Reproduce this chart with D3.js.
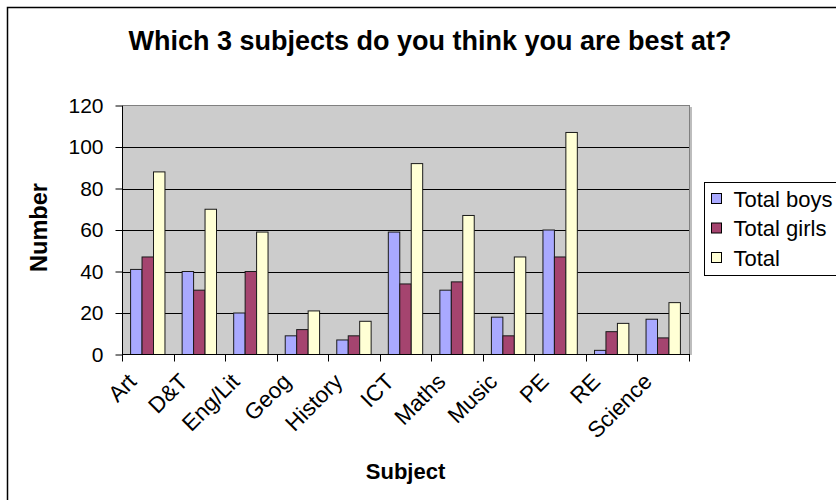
<!DOCTYPE html>
<html>
<head>
<meta charset="utf-8">
<script src="https://cdn.jsdelivr.net/npm/d3@7"></script>
<style>
  body { margin: 0; background: #fff; }
  svg text { font-family: Arial, "Liberation Sans", sans-serif; fill: #000; }
</style>
</head>
<body>
<svg id="chart" width="836" height="500"></svg>
<script>
// Survey answers: "Which 3 subjects do you think you are best at?"
const subjects   = ["Art", "D&T", "Eng/Lit", "Geog", "History", "ICT", "Maths", "Music", "PE", "RE", "Science"];
const totalBoys  = [41, 40, 20, 9, 7, 59, 31, 18, 60, 2, 17];
const totalGirls = [47, 31, 40, 12, 9, 34, 35, 9, 47, 11, 8];
const totalAll   = [88, 70, 59, 21, 16, 92, 67, 47, 107, 15, 25];
const seriesNames = ["Total boys", "Total girls", "Total"];
const yTicks = [0, 20, 40, 60, 80, 100, 120];

const seriesValues = [totalBoys, totalGirls, totalAll];
const seriesColors = ["#a9a9ff", "#a5446f", "#ffffd5"];

const svg = d3.select("#chart");
const plot = { left: 122, right: 689, top: 106, bottom: 355 };
const crisp = v => Math.round(v) + 0.5;

// Chart area frame
svg.append("rect")
  .attr("x", 7.5).attr("y", 7.5)
  .attr("width", 1000).attr("height", 1000)
  .attr("fill", "#fff").attr("stroke", "#000").attr("stroke-width", 1.5);

// Scales
const x0 = d3.scaleBand().domain(subjects).range([plot.left, plot.right]).padding(0);
const x1 = d3.scaleBand().domain(seriesNames)
  .range([x0.bandwidth() / 6, x0.bandwidth() * 5 / 6]).padding(0);
const y = d3.scaleLinear().domain([0, 120]).range([plot.bottom - 0.5, plot.top - 0.5]);

// Plot area background
svg.append("rect")
  .attr("x", plot.left + 0.5).attr("y", plot.top - 0.5)
  .attr("width", plot.right - plot.left).attr("height", plot.bottom - plot.top)
  .attr("fill", "#cccccc").attr("stroke", "#808080").attr("stroke-width", 1);
svg.append("line")
  .attr("x1", plot.right + 2).attr("x2", plot.right + 2)
  .attr("y1", plot.top + 1).attr("y2", plot.bottom)
  .attr("stroke", "#bdbdbd").attr("stroke-width", 2);

// Horizontal gridlines
svg.append("g").selectAll("line")
  .data(yTicks.filter(t => t > 0 && t < 120))
  .join("line")
  .attr("x1", plot.left).attr("x2", plot.right)
  .attr("y1", d => crisp(y(d))).attr("y2", d => crisp(y(d)))
  .attr("stroke", "#000").attr("stroke-width", 1);

// Bars
const groups = svg.append("g").selectAll("g")
  .data(subjects)
  .join("g")
  .attr("transform", d => `translate(${x0(d)},0)`);

groups.selectAll("rect")
  .data((d, i) => seriesNames.map((s, k) => ({ s, v: seriesValues[k][i], k })))
  .join("rect")
  .attr("x", d => x1(d.s))
  .attr("y", d => y(d.v))
  .attr("width", x1.bandwidth())
  .attr("height", d => y(0) - y(d.v))
  .attr("fill", d => seriesColors[d.k])
  .attr("stroke", "#1a1a1a").attr("stroke-width", 1);

// Y axis
const yAxis = svg.append("g")
  .attr("transform", `translate(${plot.left + 0.5},0)`)
  .call(d3.axisLeft(y).tickValues(yTicks).tickSize(7).tickPadding(12).tickFormat(d3.format("d")));
yAxis.select(".domain").attr("stroke", "#000").attr("d", `M-0,${plot.top}V${plot.bottom}`);
yAxis.selectAll(".tick line").attr("stroke", "#000");
yAxis.selectAll(".tick text").attr("font-size", 21).attr("fill", "#000");

// X axis line and category boundary ticks
svg.append("line")
  .attr("x1", plot.left).attr("x2", plot.right + 1)
  .attr("y1", y(0)).attr("y2", y(0))
  .attr("stroke", "#000").attr("stroke-width", 1);
const bounds = subjects.map(s => x0(s)).concat([plot.right]);
svg.append("g").selectAll("line")
  .data(bounds)
  .join("line")
  .attr("x1", d => crisp(d)).attr("x2", d => crisp(d))
  .attr("y1", y(0)).attr("y2", y(0) + 7)
  .attr("stroke", "#000").attr("stroke-width", 1);

// Category labels rotated 45 degrees
svg.append("g").selectAll("text")
  .data(subjects)
  .join("text")
  .attr("transform", d => `translate(${x0(d) + x0.bandwidth() / 2 - 10},${plot.bottom + 28}) rotate(-45)`)
  .attr("text-anchor", "end")
  .attr("font-size", 22.5)
  .text(d => d);

// Axis titles
svg.append("text")
  .attr("x", (plot.left + plot.right) / 2).attr("y", 479)
  .attr("text-anchor", "middle").attr("font-size", 22).attr("font-weight", "bold")
  .text("Subject");
svg.append("text")
  .attr("transform", `translate(47,${(plot.top + plot.bottom) / 2 - 3}) rotate(-90)`)
  .attr("text-anchor", "middle").attr("font-size", 23.5).attr("font-weight", "bold")
  .text("Number");

// Title
svg.append("text")
  .attr("x", 430).attr("y", 50)
  .attr("text-anchor", "middle").attr("font-size", 27).attr("font-weight", "bold")
  .text("Which 3 subjects do you think you are best at?");

// Legend
const legend = svg.append("g").attr("transform", "translate(704.5,182.5)");
legend.append("rect")
  .attr("width", 200).attr("height", 93)
  .attr("fill", "#fff").attr("stroke", "#000").attr("stroke-width", 1);
const item = legend.selectAll("g.item")
  .data(seriesNames)
  .join("g").attr("class", "item")
  .attr("transform", (d, i) => `translate(7,${16 + i * 29.5})`);
item.append("rect")
  .attr("x", 0).attr("y", -5).attr("width", 10).attr("height", 10)
  .attr("fill", (d, i) => seriesColors[i]).attr("stroke", "#000").attr("stroke-width", 1);
item.append("text")
  .attr("x", 22).attr("y", 8)
  .attr("font-size", 22)
  .text(d => d);
</script>
</body>
</html>
